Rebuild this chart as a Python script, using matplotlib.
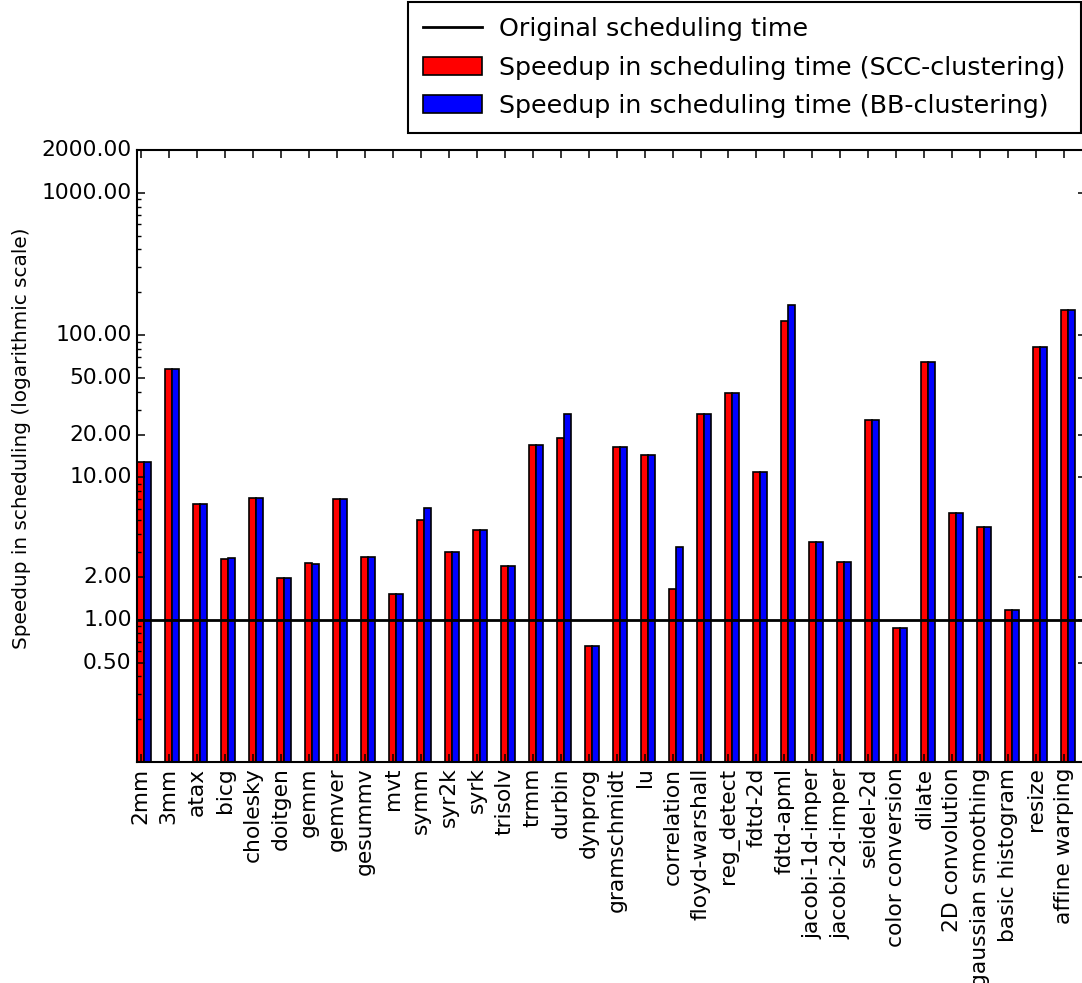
import matplotlib
matplotlib.use("Agg")
import matplotlib.pyplot as plt
import numpy as np
from matplotlib.ticker import FixedLocator, FormatStrFormatter, LogLocator, NullFormatter

plt.style.use("classic")
plt.rcParams["font.family"] = ["DejaVu Sans"]

benchmarks = ["2mm", "3mm", "atax", "bicg", "cholesky", "doitgen", "gemm", "gemver",
              "gesummv", "mvt", "symm", "syr2k", "syrk", "trisolv", "trmm", "durbin",
              "dynprog", "gramschmidt", "lu", "correlation", "floyd-warshall", "reg_detect",
              "fdtd-2d", "fdtd-apml", "jacobi-1d-imper", "jacobi-2d-imper", "seidel-2d",
              "color conversion", "dilate", "2D convolution", "gaussian smoothing",
              "basic histogram", "resize", "affine warping"]

scc_speedup = [12.8, 57.6, 6.5, 2.67, 7.2, 1.95, 2.51, 7.1,
               2.78, 1.52, 5.05, 3.0, 4.3, 2.39, 17.0, 19.0,
               0.656, 16.4, 14.4, 1.64, 27.9, 39.0,
               11.0, 126.0, 3.52, 2.56, 25.2,
               0.875, 64.6, 5.62, 4.46,
               1.17, 83.0, 151.0]

bb_speedup = [12.8, 57.6, 6.5, 2.72, 7.2, 1.95, 2.47, 7.1,
              2.78, 1.52, 6.12, 3.0, 4.3, 2.39, 17.0, 27.9,
              0.656, 16.4, 14.4, 3.24, 27.9, 39.0,
              11.0, 162.0, 3.52, 2.56, 25.2,
              0.875, 64.6, 5.62, 4.46,
              1.17, 83.0, 151.0]

ytick_values = [0.5, 1, 2, 10, 20, 50, 100, 1000, 2000]
baseline = 1.0

W, H = 1082, 983
fig = plt.figure(figsize=(W / 100, H / 100), dpi=100, facecolor="white")
left_px, right_px, top_px, bottom_px = 137.3, 1086, 150, 762
ax = fig.add_axes([left_px / W, (H - bottom_px) / H,
                   (right_px - left_px) / W, (bottom_px - top_px) / H])

ind = np.arange(len(benchmarks))
width = 0.25
ax.set_yscale("log")
line = ax.axhline(baseline, color="black", linewidth=2, label="Original scheduling time", zorder=3)
red = ax.bar(ind, scc_speedup, width, align="edge", color="red", edgecolor="black",
             linewidth=1.2, label="Speedup in scheduling time (SCC-clustering)", zorder=2)
blue = ax.bar(ind + width, bb_speedup, width, align="edge", color="blue", edgecolor="black",
              linewidth=1.2, label="Speedup in scheduling time (BB-clustering)", zorder=2)

ax.set_xlim(0, 33.9)
ax.set_ylim(0.1, 2000)
ax.set_xticks(ind + width / 2)
ax.set_xticklabels(benchmarks, rotation=90, fontsize=15.7)
ax.yaxis.set_major_locator(FixedLocator(ytick_values))
ax.yaxis.set_major_formatter(FormatStrFormatter("%.2f"))
ax.yaxis.set_minor_locator(LogLocator(base=10, subs=np.arange(2, 10)))
ax.yaxis.set_minor_formatter(NullFormatter())
ax.tick_params(axis="y", labelsize=15.7)
ax.tick_params(which="major", length=5.8, width=1.1, direction="in")
ax.tick_params(which="minor", length=2.9, width=1.0, direction="in")
ax.tick_params(axis="x", which="minor", length=0)
for s in ax.spines.values():
    s.set_linewidth(1.5)

ax.set_ylabel("Speedup in scheduling (logarithmic scale)", fontsize=14.4)
ax.yaxis.set_label_coords((31 - left_px) / (right_px - left_px), 0.529)

leg = fig.legend([line, red, blue],
                 ["Original scheduling time",
                  "Speedup in scheduling time (SCC-clustering)",
                  "Speedup in scheduling time (BB-clustering)"],
                 loc="upper right", bbox_to_anchor=(1081 / W, 981 / H),
                 fontsize=18.3, frameon=True, fancybox=False, shadow=False,
                 borderaxespad=0, handlelength=2.3, handletextpad=0.7,
                 labelspacing=0.57, borderpad=0.6, numpoints=1)
leg.get_frame().set_edgecolor("black")
leg.get_frame().set_linewidth(1.5)

fig.savefig("out.png", dpi=100, facecolor="white")
